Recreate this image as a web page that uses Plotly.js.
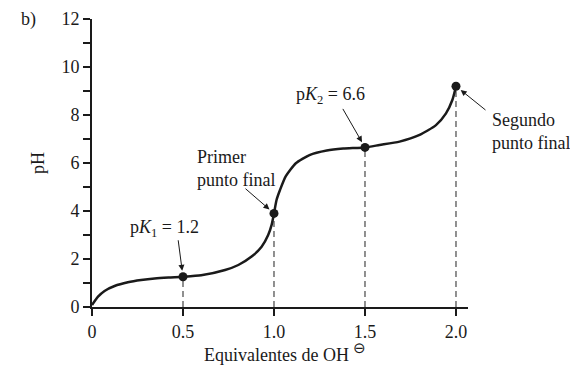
<!DOCTYPE html>
<html>
<head>
<meta charset="utf-8">
<script src="https://cdn.plot.ly/plotly-3.0.1.min.js"></script>
<style>html,body{margin:0;padding:0;background:#fff}#chart{width:570px;height:365px}</style>
</head>
<body>
<div id="chart"></div>
<script>
// Titration curve
const eqOH = [0, 0.033, 0.069, 0.124, 0.197, 0.27, 0.344, 0.42, 0.5, 0.6, 0.731, 0.804, 0.877, 0.932, 0.968, 0.987, 1.0, 1.014, 1.033, 1.065, 1.12, 1.195, 1.29, 1.38, 1.5, 1.58, 1.69, 1.8, 1.89, 1.945, 1.98, 2.0];
const pH    = [0.08, 0.43, 0.67, 0.875, 1.03, 1.125, 1.19, 1.23, 1.26, 1.32, 1.54, 1.75, 2.1, 2.51, 3.0, 3.42, 3.9, 4.46, 4.875, 5.45, 5.99, 6.33, 6.52, 6.6, 6.65, 6.75, 6.89, 7.17, 7.58, 8.07, 8.625, 9.2];

// Marked points
const markX = [0.5, 1.0, 1.5, 2.0];
const markY = [1.26, 3.9, 6.65, 9.2];

// Tick labels
const xTickVals = [0, 0.5, 1.0, 1.5, 2.0];
const xTickText = ['0', '0.5', '1.0', '1.5', '2.0'];
const yTickVals = [0, 2, 4, 6, 8, 10, 12];
const yTickText = ['0', '2', '4', '6', '8', '10', '12'];

// Labels
const labels = ['p<i>K</i><sub>1</sub> = 1.2', 'Primer<br>punto final', 'p<i>K</i><sub>2</sub> = 6.6', 'Segundo<br>punto final'];
const xTitle = 'Equivalentes de OH <sup><span style="font-size:15px">⊖</span></sup>';
const yTitle = 'pH';

const FONT = '"Liberation Serif", "Times New Roman", Times, serif';
const FS = 18;
const INK = '#1a1a1a';

const traces = [];
// dashed drop lines
markX.forEach((x, i) => {
  traces.push({x: [x, x], y: [0, markY[i]], mode: 'lines', type: 'scatter',
    line: {color: '#555', width: 1.3, dash: '6px,4px'}, hoverinfo: 'skip', showlegend: false});
});
traces.push({x: eqOH, y: pH, mode: 'lines', type: 'scatter',
  line: {color: INK, width: 2.5, shape: 'spline', smoothing: 0.6}, showlegend: false, cliponaxis: false});
traces.push({x: markX, y: markY, mode: 'markers', type: 'scatter',
  marker: {color: INK, size: 9}, showlegend: false, cliponaxis: false});

const arrowBase = {xref: 'x', yref: 'y', text: '', showarrow: true, arrowhead: 2, arrowsize: 1.2,
  arrowwidth: 1, arrowcolor: INK, standoff: 6};
const tfont = {family: FONT, size: FS, color: INK};
const annotations = [
  Object.assign({}, arrowBase, {x: markX[0], y: markY[0], ax: -5, ay: -38}),
  Object.assign({}, arrowBase, {x: markX[1], y: markY[1], ax: -30, ay: -26}),
  Object.assign({}, arrowBase, {x: markX[2], y: markY[2], ax: -23, ay: -40}),
  Object.assign({}, arrowBase, {x: markX[3], y: markY[3], ax: 31, ay: 25}),
  {xref: 'x', yref: 'y', x: 0.40, y: 3.29, text: labels[0], showarrow: false, font: tfont},
  {xref: 'x', yref: 'y', x: 0.566, y: 5.77, text: labels[1], showarrow: false, xanchor: 'left', align: 'left', font: tfont},
  {xref: 'x', yref: 'y', x: 1.308, y: 8.83, text: labels[2], showarrow: false, font: tfont},
  {xref: 'paper', yref: 'paper', x: 1.0585, y: 0.611, text: labels[3], showarrow: false, xanchor: 'left', align: 'left', font: tfont},
  {xref: 'paper', yref: 'paper', x: -0.17, y: 1.0, text: 'b)', showarrow: false, xanchor: 'center', yanchor: 'middle', font: tfont},
  {xref: 'paper', yref: 'paper', x: 0.513, y: -0.158, text: xTitle, showarrow: false, xanchor: 'center', yanchor: 'middle', font: tfont}
];

const layout = {
  width: 570, height: 365,
  margin: {l: 92, r: 102, t: 19, b: 58},
  paper_bgcolor: '#fff', plot_bgcolor: '#fff',
  font: tfont,
  showlegend: false,
  xaxis: {range: [0, 2.066], showgrid: false, zeroline: false, showline: true, linecolor: INK, linewidth: 2,
    ticks: 'outside', ticklen: 7, tickwidth: 2, tickcolor: INK, tickvals: xTickVals, ticktext: xTickText,
    tickfont: tfont},
  yaxis: {range: [0, 12], showgrid: false, zeroline: false, showline: true, linecolor: INK, linewidth: 2,
    ticks: 'outside', ticklen: 7, tickwidth: 2, tickcolor: INK, tickvals: yTickVals, ticktext: yTickText,
    tickfont: tfont,
    minor: {dtick: 1, ticks: 'outside', ticklen: 7, tickwidth: 2, tickcolor: INK, showgrid: false},
    title: {text: yTitle, font: tfont, standoff: 12}},
  annotations: annotations
};

Plotly.newPlot('chart', traces, layout, {staticPlot: true, displayModeBar: false});
</script>
</body>
</html>
